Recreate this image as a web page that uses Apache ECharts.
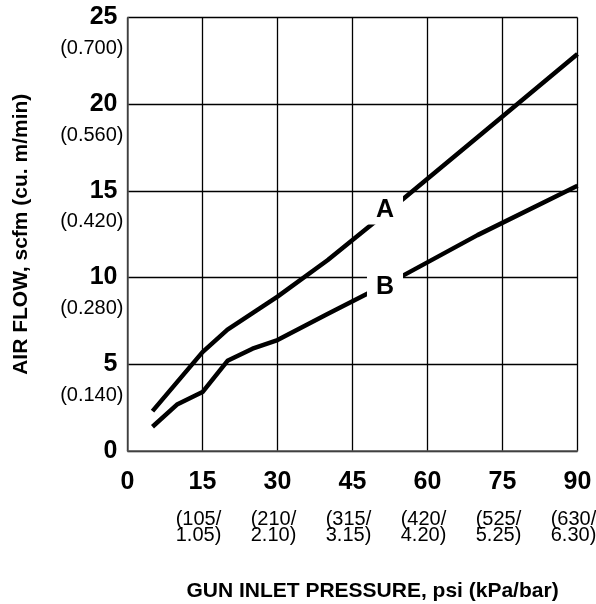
<!DOCTYPE html>
<html>
<head>
<meta charset="utf-8">
<style>
  html, body { margin: 0; padding: 0; background: #fff; }
  #chart { width: 596px; height: 604px; }
</style>
<script src="https://cdn.jsdelivr.net/npm/echarts@6/dist/echarts.min.js"></script>
</head>
<body>
<div id="chart"></div>
<script>
// ---- data ----
var pressureA = [5, 15, 20, 30, 40, 55, 70, 90];
var flowA     = [2.3, 5.7, 7.0, 8.9, 11.0, 14.5, 18.1, 22.9];
var pressureB = [5, 10, 15, 20, 25, 30, 40, 55, 70, 90];
var flowB     = [1.4, 2.7, 3.4, 5.2, 5.9, 6.4, 7.9, 10.1, 12.45, 15.3];
var xTickLabels = ['0', '15', '30', '45', '60', '75', '90'];
var xMetricLabels = ['', '(105/\n1.05)', '(210/\n2.10)', '(315/\n3.15)', '(420/\n4.20)', '(525/\n5.25)', '(630/\n6.30)'];
var yTickLabels = ['0', '5', '10', '15', '20', '25'];
var yMetricLabels = ['', '(0.140)', '(0.280)', '(0.420)', '(0.560)', '(0.700)'];
var curveNames = ['A', 'B'];
var curveLabelPos = [[51.5, 13.9], [51.5, 9.45]];

var FONT = 'Liberation Sans, Arial, Helvetica, sans-serif';
function zip(xs, ys) { return xs.map(function (x, i) { return [x, ys[i]]; }); }

var chart = echarts.init(document.getElementById('chart'));
chart.setOption({
  animation: false,
  backgroundColor: '#fff',
  grid: { left: 127.5, right: 18.5, top: 17.5, bottom: 153, containLabel: false, outerBoundsMode: 'none' },
  xAxis: [{
    type: 'value', min: 0, max: 90, interval: 15,
    axisLine: { show: true, lineStyle: { color: '#555', width: 1.5 } },
    axisTick: { show: false },
    splitLine: { show: true, lineStyle: { color: '#000', width: 1.3 } },
    axisLabel: {
      margin: 19, color: '#000', fontFamily: FONT, fontWeight: 'bold', fontSize: 25,
      interval: 0, showMinLabel: true, showMaxLabel: true, hideOverlap: false,
      formatter: function (v) { return xTickLabels[Math.round(v / 15)]; }
    },
    name: 'GUN INLET PRESSURE, psi (kPa/bar)',
    nameLocation: 'middle', nameGap: 130,
    nameTextStyle: { color: '#000', fontFamily: FONT, fontWeight: 'bold', fontSize: 21, padding: [0, 0, 0, 40] }
  }, {
    type: 'value', min: 0, max: 90, interval: 15, position: 'bottom',
    axisLine: { show: false }, axisTick: { show: false }, splitLine: { show: false },
    axisLabel: {
      margin: 60, color: '#000', fontFamily: FONT, fontSize: 20, lineHeight: 16,
      padding: [0, 8, 0, 0], interval: 0, showMinLabel: true, showMaxLabel: true, hideOverlap: false,
      formatter: function (v) { return xMetricLabels[Math.round(v / 15)]; }
    }
  }],
  yAxis: [{
    type: 'value', min: 0, max: 25, interval: 5,
    axisLine: { show: true, lineStyle: { color: '#555', width: 1.5 } },
    axisTick: { show: false },
    splitLine: { show: true, lineStyle: { color: '#000', width: 1.3 } },
    axisLabel: {
      margin: 10, color: '#000', fontFamily: FONT, fontWeight: 'bold', fontSize: 25,
      interval: 0, showMinLabel: true, showMaxLabel: true, hideOverlap: false,
      formatter: function (v) { return yTickLabels[Math.round(v / 5)]; }
    },
    name: 'AIR FLOW, scfm (cu. m/min)',
    nameLocation: 'middle', nameGap: 96,
    nameTextStyle: { color: '#000', fontFamily: FONT, fontWeight: 'bold', fontSize: 21 }
  }, {
    type: 'value', min: 0, max: 25, interval: 5, position: 'left',
    axisLine: { show: false }, axisTick: { show: false }, splitLine: { show: false },
    axisLabel: {
      margin: 4, color: '#000', fontFamily: FONT, fontSize: 20, lineHeight: 62, verticalAlign: 'top',
      interval: 0, showMinLabel: true, showMaxLabel: true, hideOverlap: false,
      formatter: function (v) { return yMetricLabels[Math.round(v / 5)]; }
    }
  }],
  series: [{
    name: 'A', type: 'line', xAxisIndex: 0, yAxisIndex: 0,
    data: zip(pressureA, flowA), showSymbol: false, symbol: 'none',
    lineStyle: { color: '#000', width: 4.5 }, z: 3
  }, {
    name: 'B', type: 'line', xAxisIndex: 0, yAxisIndex: 0,
    data: zip(pressureB, flowB), showSymbol: false, symbol: 'none',
    lineStyle: { color: '#000', width: 4.5 }, z: 3
  }, {
    type: 'scatter', xAxisIndex: 0, yAxisIndex: 0, symbolSize: 1, z: 10,
    itemStyle: { opacity: 1, color: '#fff' },
    data: curveLabelPos.map(function (p, i) { return { value: p, name: curveNames[i] }; }),
    label: {
      show: true, position: 'inside', formatter: '{b}', opacity: 1,
      color: '#000', fontFamily: FONT, fontWeight: 'bold', fontSize: 25,
      backgroundColor: '#fff', padding: [3, 9, 1, 9]
    },
    emphasis: { disabled: true },
    silent: true
  }]
});
</script>
</body>
</html>
